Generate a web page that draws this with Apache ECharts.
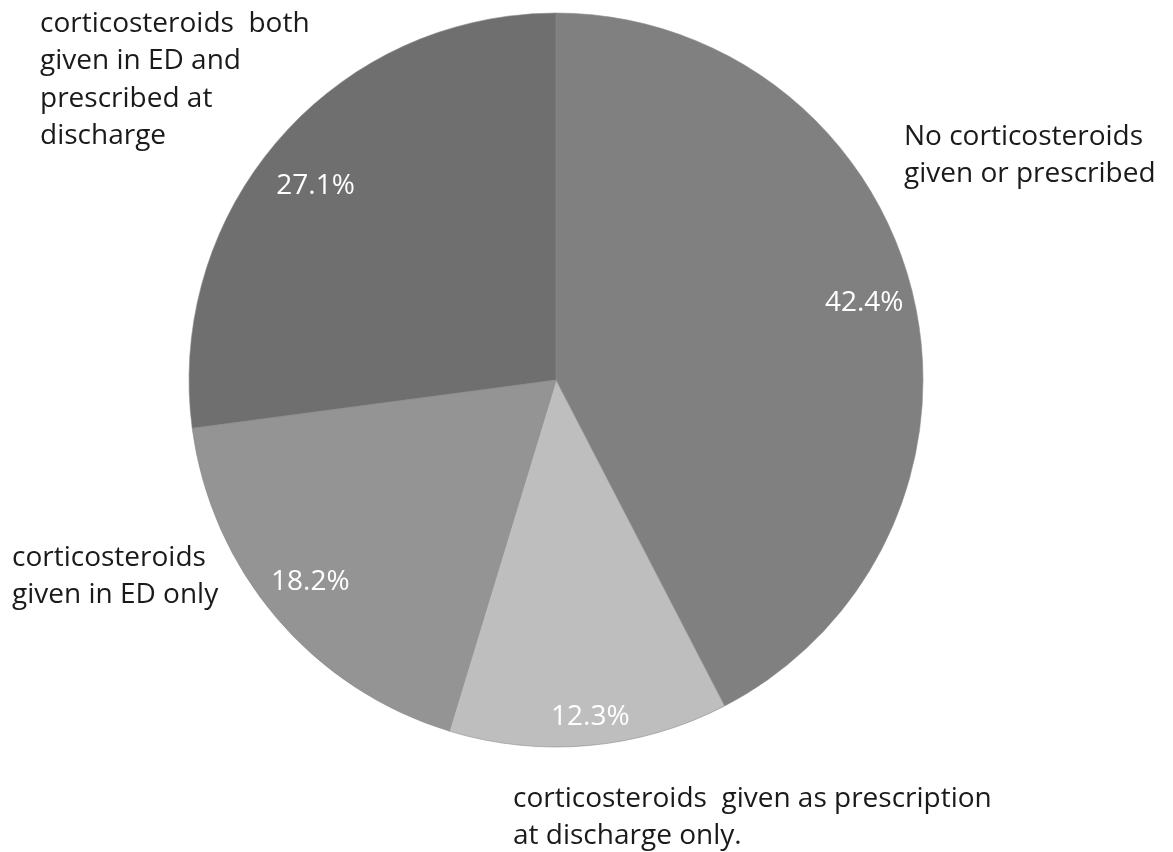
<!DOCTYPE html>
<html><head><meta charset="utf-8">
<script src="https://cdn.jsdelivr.net/npm/echarts@6/dist/echarts.min.js"></script>
<style>html,body{margin:0;padding:0;background:#fff}#c{width:1173px;height:852px}</style>
</head><body><div id="c"></div>
<script>
const categories = [
  'No corticosteroids\ngiven or prescribed',
  'corticosteroids  given as prescription\nat discharge only.',
  'corticosteroids\ngiven in ED only',
  'corticosteroids  both\ngiven in ED and\nprescribed at\ndischarge'
];
const values = [42.4, 12.3, 18.2, 27.1];
const colors = ['#808080', '#bebebe', '#949494', '#6f6f6f'];
const labelPos = [[904, 118], [513, 780], [12, 539], [40, 5]];
const pctShift = [[-5, -1], [5, 16], [0, -7], [2, 18]];

const data = categories.map((n, i) => ({ name: n, value: values[i], itemStyle: { color: colors[i] } }));
const chart = echarts.init(document.getElementById('c'));
const center = [556, 380];
const R = 367;
chart.setOption({
  animation: false,
  series: [
    {
      type: 'pie', center: center, radius: [0, R], startAngle: 90, clockwise: true,
      silent: true,
      itemStyle: { borderColor: '#8c8c8c', borderWidth: 0.6 },
      data: data,
      label: {
        show: true, position: 'outside', formatter: '{b}', overflow: 'none',
        color: '#1a1a1a', fontFamily: 'Open Sans', fontSize: 28, lineHeight: 37.5,
        align: 'left'
      },
      labelLine: { show: false },
      labelLayout: function (p) {
        const q = labelPos[p.dataIndex];
        return { x: q[0], y: q[1], align: 'left', verticalAlign: 'top', moveOverlap: false, hideOverlap: false };
      }
    },
    {
      type: 'pie', center: center, radius: [R * 0.74, R], startAngle: 90, clockwise: true,
      silent: true,
      itemStyle: { color: 'rgba(0,0,0,0)', borderWidth: 0 },
      data: values.map((v, i) => ({ name: categories[i], value: v })),
      label: {
        show: true, position: 'inside', formatter: p => p.value.toFixed(1) + '%',
        color: '#ffffff', fontFamily: 'Open Sans', fontSize: 28
      },
      labelLine: { show: false },
      labelLayout: function (p) {
        const s = pctShift[p.dataIndex];
        return { dx: s[0], dy: s[1] };
      }
    }
  ]
});
</script></body></html>
